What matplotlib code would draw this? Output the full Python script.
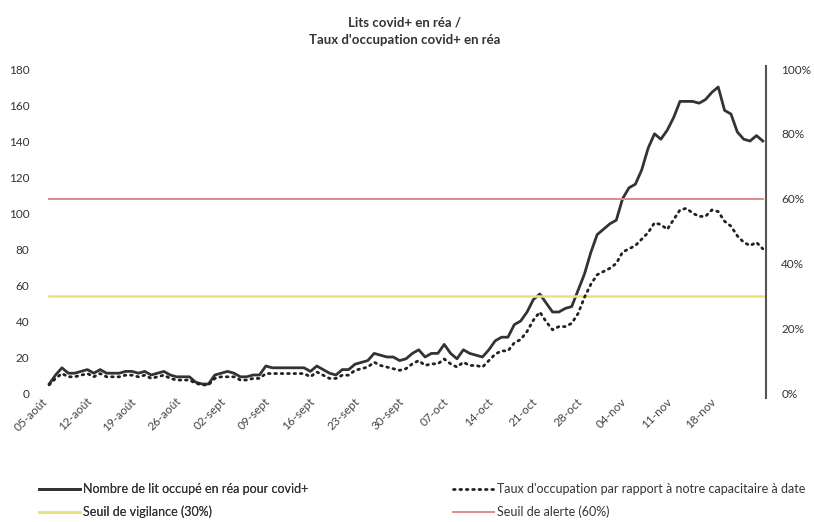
import matplotlib
matplotlib.use("Agg")
import matplotlib.pyplot as plt
import matplotlib.transforms as mtransforms
from matplotlib.lines import Line2D
import numpy as np

plt.rcParams['font.family'] = ['Lato', 'DejaVu Sans']

# lits covid+ occupés en réa, un point par jour du 05-août au 25-nov
lits = [5, 10, 14, 11, 11, 12, 13, 11, 13, 11, 11, 11, 12, 12, 11, 12, 10, 11, 12, 10,
        9, 9, 9, 6, 5, 5, 10, 11, 12, 11, 9, 9, 10, 10, 15, 14, 14, 14, 14, 14,
        14, 12, 15, 13, 11, 10, 13, 13, 16, 17, 18, 22, 21, 20, 20, 18, 19, 22, 24, 20,
        22, 22, 27, 22, 19, 24, 22, 21, 20, 24, 29, 31, 31, 38, 40, 45, 52, 55, 50, 45,
        45, 47, 48, 57, 66, 78, 88, 91, 94, 96, 108, 114, 116, 124, 136, 144, 141, 146, 153, 162,
        162, 162, 161, 163, 167, 170, 157, 155, 145, 141, 140, 143, 140]

# taux d'occupation (%) par rapport au capacitaire à date
taux = [2.5, 4.5, 6, 5, 5, 5.5, 6, 5, 6, 5, 5, 5, 5.5, 5.5, 5, 5.5, 4.5, 5, 5.5, 4.5,
        4, 4, 4, 3, 2.5, 2.5, 4.5, 5, 5, 5, 4, 4, 4.5, 4.5, 6, 6, 6, 6, 6, 6,
        6, 5, 6.5, 5.5, 4.5, 4.5, 5.5, 5.5, 7, 7.5, 8, 9.5, 8.5, 8, 7.5, 7, 7.5, 9, 10, 8.5,
        9, 9, 10.5, 9, 8, 9.5, 8.5, 8.5, 8, 10, 12, 13, 13, 15.5, 16.5, 19, 22.5, 25, 22, 19.5,
        20.5, 20.5, 21.5, 24.5, 29.5, 33.5, 36.5, 37.5, 38.5, 40, 43.5, 44.5, 45.5, 47.5, 49.5, 52.5, 52, 50.5, 53.5, 56.5,
        57, 55.5, 54.5, 54.5, 56.5, 56, 53, 51.5, 48.5, 46.5, 45.5, 46.5, 44.5]

tick_labels = ["05-août", "12-août", "19-août", "26-août", "02-sept", "09-sept", "16-sept",
               "23-sept", "30-sept", "07-oct", "14-oct", "21-oct", "28-oct", "04-nov",
               "11-nov", "18-nov"]

seuil_vigilance = 30
seuil_alerte = 60

jours = np.arange(len(lits))
taux_frac = np.array(taux) / 100

fig = plt.figure(figsize=(8.14, 5.22), dpi=100)
ax = fig.add_axes([46 / 814, 129 / 522, 720 / 814, 324 / 522])
ax2 = ax.twinx()

ax.plot(jours, lits, color="#333333", lw=2.0, solid_joinstyle="round", zorder=3)
ax2.plot(jours, np.full(len(jours), seuil_vigilance / 100), color="#e9e27c", lw=1.8, zorder=1)
ax2.plot(jours, np.full(len(jours), seuil_alerte / 100), color="#dc8c8a", lw=1.4, zorder=1)
ax2.plot(jours, taux_frac, color="#222222", lw=2.0, linestyle=(0, (0.6, 1.7)),
         dash_capstyle="round", zorder=2)

ax.set_xlim(-0.5, len(lits) - 0.5)
ax.set_ylim(0, 180)
ax2.set_ylim(0, 1.0)

ax.set_yticks(range(0, 181, 20))
ax2.set_yticks([0, 0.2, 0.4, 0.6, 0.8, 1.0])
ax2.set_yticklabels(["0%", "20%", "40%", "60%", "80%", "100%"])

ax.set_xticks(jours[::7][:len(tick_labels)])
ax.set_xticklabels(tick_labels, rotation=45, ha="right", va="top")
offset = mtransforms.ScaledTranslation(11 / 100, 0, fig.dpi_scale_trans)
for lab in ax.get_xticklabels():
    lab.set_transform(lab.get_transform() + offset)

for a in (ax, ax2):
    for s in a.spines.values():
        s.set_visible(False)
ax2.spines["right"].set_visible(True)
ax2.spines["right"].set_color("#555555")
ax2.spines["right"].set_linewidth(1.5)
ax2.spines["right"].set_bounds(-0.015, 1.01)

ax.tick_params(axis="y", length=0, pad=12, labelsize=8.5, labelcolor="#333333")
ax.tick_params(axis="x", length=0, pad=2, labelsize=8.5, labelcolor="#444444")
ax2.tick_params(axis="y", length=0, pad=11, labelsize=8.5, labelcolor="#333333")

fig.text(0.497, 0.968, "Lits covid+ en réa /\nTaux d'occupation covid+ en réa",
         ha="center", va="top", fontsize=9.5, fontweight="bold", color="#333333",
         linespacing=1.55, multialignment="center")

h_lits = Line2D([], [], color="#333333", lw=2.0)
h_taux = Line2D([], [], color="#222222", lw=2.0, linestyle=(0, (0.6, 1.7)), dash_capstyle="round")
h_vig = Line2D([], [], color="#e9e27c", lw=1.8)
h_al = Line2D([], [], color="#dc8c8a", lw=1.4)

leg1 = fig.legend([h_lits, h_vig], ["Nombre de lit occupé en réa pour covid+", "Seuil de vigilance (30%)"],
                  loc="upper left", bbox_to_anchor=(34 / 814, 1 - 478 / 522), frameon=False,
                  fontsize=9, handlelength=3.3, handletextpad=0.2, labelspacing=0.85,
                  labelcolor="#333333", borderaxespad=0)
leg2 = fig.legend([h_taux, h_al], ["Taux d'occupation par rapport à notre capacitaire à date", "Seuil de alerte (60%)"],
                  loc="upper left", bbox_to_anchor=(448 / 814, 1 - 478 / 522), frameon=False,
                  fontsize=9, handlelength=3.3, handletextpad=0.2, labelspacing=0.85,
                  labelcolor="#333333", borderaxespad=0)
fig.add_artist(leg1)

fig.savefig("out.png", dpi=100)
